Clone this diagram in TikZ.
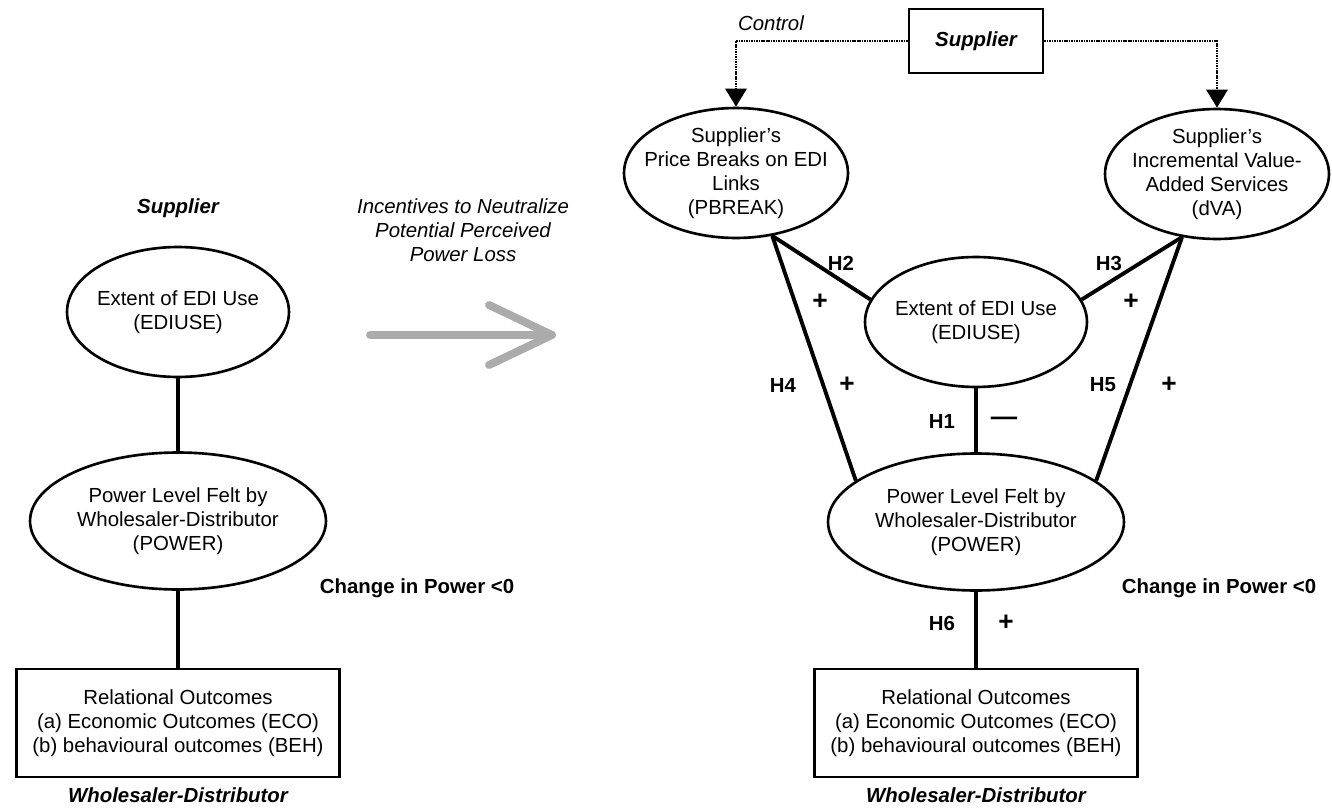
\documentclass[tikz,border=0pt]{standalone}
\usepackage{fontspec}
\setmainfont{Liberation Sans}
\usetikzlibrary{arrows.meta,positioning,shapes.geometric}
\newcommand{\diagfont}{\fontsize{11.6}{13.7}\selectfont}
\tikzset{%
	construct/.style = {draw, ellipse, line width=1.5pt, inner sep=-0.35cm, align=center, minimum width=4.44cm, minimum height=2.6cm, font=\diagfont},
	outcome/.style   = {draw, rectangle, line width=1.5pt, align=center, minimum width=6.46cm, minimum height=2.16cm, font=\diagfont},
	srcbox/.style    = {draw, rectangle, line width=1.5pt, minimum width=2.68cm, minimum height=1.28cm, font=\diagfont\bfseries\itshape},
	role/.style      = {font=\diagfont\bfseries\itshape},
	note/.style      = {font=\diagfont\itshape, align=center},
	change/.style    = {font=\diagfont\bfseries},
	hyp/.style       = {font=\diagfont\bfseries},
	sign/.style      = {font=\fontsize{15}{15}\selectfont\bfseries},
	link/.style      = {line width=2.2pt},
	control/.style   = {line width=1.6pt, dash pattern=on 0.9pt off 0.5pt, -{Triangle[width=0.42cm,length=0.36cm]}},
	bigarrow/.style  = {line width=4.5pt, color=black!33, line cap=round, line join=round},
}

\begin{document}
\begin{tikzpicture}[x=0.02cm,y=-0.02cm]
	\useasboundingbox (0,0) rectangle (1332,808);

	% before: EDI use lowers power
	\node[role] (supL) at (178,208) {Supplier};
	\node[construct] (ediL) at (178,312) {Extent of EDI Use\\(EDIUSE)};
	\node[construct, minimum width=5.92cm, minimum height=2.74cm] (powL) at (178,521) {Power Level Felt by\\Wholesaler-Distributor\\(POWER)};
	\node[outcome] (outL) at (178,723) {Relational Outcomes\\(a) Economic Outcomes (ECO)\\(b) behavioural outcomes (BEH)};
	\node[role] (wdL) at (178,795) {Wholesaler-Distributor};
	\node[change] (chgL) at (417,588) {Change in Power <0};

	\draw[link] (ediL.south) -- (powL.north);
	\draw[link] (powL.south) -- (outL.north);

	% grey arrow
	\node[note] (incent) at (463,230) {Incentives to Neutralize\\Potential Perceived\\Power Loss};
	\coordinate (arT) at (370,335);
	\coordinate (arH) at (552,335);
	\draw[bigarrow] (arT) -- (arH) (489,305) -- (arH) -- (489,365);

	% after: full model
	\node[srcbox] (supR) at (976,41) {Supplier};
	\node[note] (ctrl) at (771,23) {Control};
	\node[construct, minimum width=4.48cm] (pb) at (736,173) {Supplier’s\\Price Breaks on EDI\\Links\\(PBREAK)};
	\node[construct, minimum width=4.48cm] (dva) at (1217,174) {Supplier’s\\Incremental Value-\\Added Services\\(dVA)};
	\node[construct] (ediR) at (976,322) {Extent of EDI Use\\(EDIUSE)};
	\node[construct, minimum width=5.92cm, minimum height=2.74cm] (powR) at (976,522) {Power Level Felt by\\Wholesaler-Distributor\\(POWER)};
	\node[outcome] (outR) at (976,723) {Relational Outcomes\\(a) Economic Outcomes (ECO)\\(b) behavioural outcomes (BEH)};
	\node[role] (wdR) at (976,795) {Wholesaler-Distributor};
	\node[change] (chgR) at (1219,588) {Change in Power <0};

	\draw[control] (supR.west) -| (pb.north);
	\draw[control] (supR.east) -| (dva.north);

	\draw[link] (pb.-60) -- (ediR.168);
	\draw[link] (pb.-60) -- (powR.161);
	\draw[link] (dva.-119) -- (ediR.12);
	\draw[link] (dva.-119) -- (powR.19);
	\draw[link] (ediR.south) -- (powR.north);
	\draw[link] (powR.south) -- (outR.north);

	% hypotheses and signs
	\foreach \nm/\px/\py/\txt in {h1/942/421/H1, h2/841/263/H2, h3/1109/263/H3, h4/783/385/H4, h5/1103/385/H5, h6/942/623/H6}
		\node[hyp] (\nm) at (\px,\py) {\txt};
	\foreach \nm/\px/\py/\txt in {s1/1004/421/—, s2/820/302/+, s3/1131/302/+, s4/847/385/+, s5/1169/385/+, s6/1006/623/+}
		\node[sign] (\nm) at (\px,\py) {\txt};
\end{tikzpicture}
\end{document}
